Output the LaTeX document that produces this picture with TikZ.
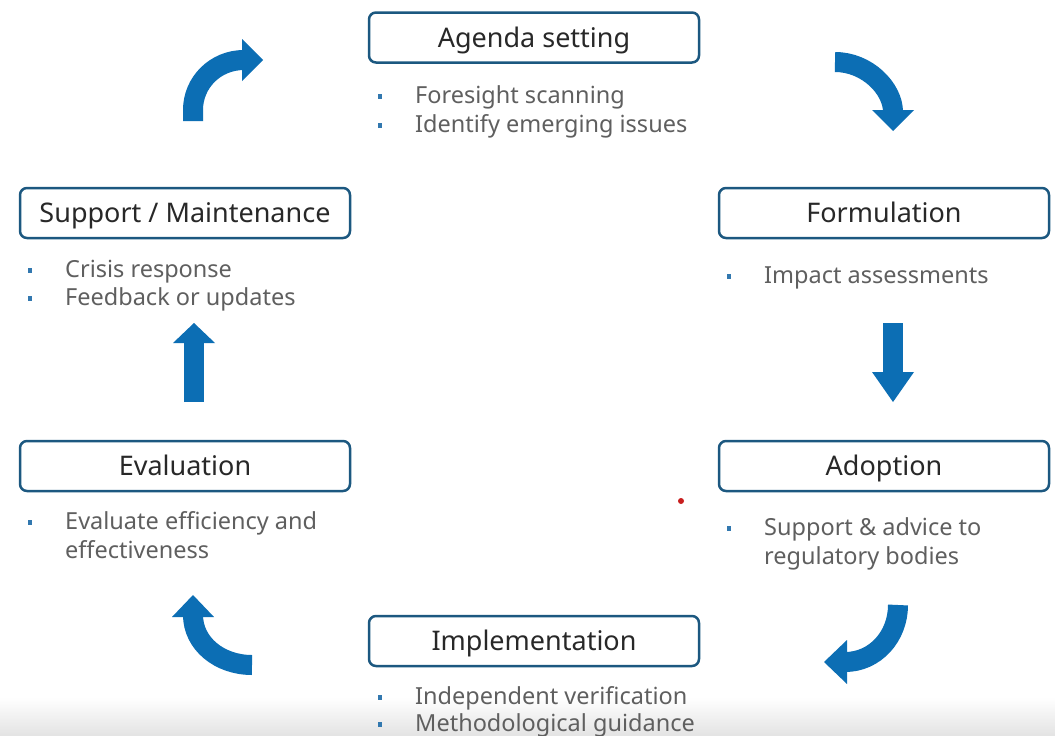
\documentclass[tikz,border=0pt]{standalone}
\usepackage{fontspec}
\setmainfont{Noto Sans}
\definecolor{boxline}{RGB}{28,88,128}
\definecolor{labeltext}{RGB}{40,40,40}
\definecolor{itemtext}{RGB}{95,95,95}
\definecolor{bulletblue}{RGB}{50,120,175}
\definecolor{arrowblue}{RGB}{12,110,180}
\definecolor{dotred}{RGB}{200,30,30}
\begin{document}
\begin{tikzpicture}[x=1pt,y=-1pt,
  stagebox/.style={draw=boxline, line width=2.5pt, rounded corners=7pt, fill=white,
    minimum width=330pt, minimum height=50pt, inner sep=0pt,
    text height=22pt, text depth=3pt,
    font=\fontsize{27}{30}\selectfont, text=labeltext},
  itemtext/.style={anchor=base west, inner sep=0pt, font=\fontsize{23.5}{27}\selectfont, text=itemtext},
  bulletsq/.style={fill=bulletblue, minimum width=4pt, minimum height=5pt, inner sep=0pt},
  shaft/.style={draw=arrowblue, line width=20pt},
  tiptri/.style={fill=arrowblue}
]
\useasboundingbox (0,0) rectangle (1055,736);
\fill[white] (0,0) rectangle (1055,736);
% bottom grey fade
\shade[top color=white, bottom color=black!11] (0,697) rectangle (1055,736);

% stage boxes
\node[stagebox] (agenda) at (534,37.5) {Agenda setting};
\node[stagebox] (support) at (185,213) {Support / Maintenance};
\node[stagebox] (formulation) at (884,213) {Formulation};
\node[stagebox] (evaluation) at (185,466) {Evaluation};
\node[stagebox] (adoption) at (884,466) {Adoption};
\node[stagebox] (implementation) at (534,641) {Implementation};

% bullet items
\node[bulletsq] (b1) at (380,96) {};
\node[itemtext] (t1) at (415,103) {Foresight scanning};
\node[bulletsq] (b2) at (380,125) {};
\node[itemtext] (t2) at (415,132) {Identify emerging issues};

\node[bulletsq] (b3) at (30,270) {};
\node[itemtext] (t3) at (65,277) {Crisis response};
\node[bulletsq] (b4) at (30,298) {};
\node[itemtext] (t4) at (65,305) {Feedback or updates};

\node[bulletsq] (b5) at (729,276) {};
\node[itemtext] (t5) at (764,283) {Impact assessments};

\node[bulletsq] (b6) at (729,528) {};
\node[itemtext] (t6) at (764,535) {Support \& advice to};
\node[itemtext] (t6b) at (764,564) {regulatory bodies};

\node[bulletsq] (b7) at (30,522) {};
\node[itemtext] (t7) at (65,529) {Evaluate efficiency and};
\node[itemtext] (t7b) at (65,558) {effectiveness};

\node[bulletsq] (b8) at (380,697) {};
\node[itemtext] (t8) at (415,704) {Independent verification};
\node[bulletsq] (b9) at (380,724) {};
\node[itemtext] (t9) at (415,731) {Methodological guidance};

% red dot
\fill[dotred] (681,501) circle (3pt);

% curved arrow top-left
\draw[shaft] (193,121) -- (193,110) .. controls (193,82.4) and (215.4,60) .. (244,60);
\fill[tiptri] (242,39) -- (263,60) -- (242,81) -- cycle;
% curved arrow top-right
\draw[shaft] (835,62) .. controls (867,62) and (893,88.5) .. (893,112);
\fill[tiptri] (872,110) -- (914,110) -- (893,131) -- cycle;
% straight arrow down
\draw[shaft] (893,323) -- (893,374);
\fill[tiptri] (872,372) -- (914,372) -- (893,402) -- cycle;
% curved arrow bottom-right
\draw[shaft] (898,605) .. controls (898,636.5) and (875,662) .. (845,662);
\fill[tiptri] (847,640) -- (847,684) -- (824,662) -- cycle;
% curved arrow bottom-left
\draw[shaft] (252,665) .. controls (219.4,665) and (193,643.5) .. (193,615);
\fill[tiptri] (172,617) -- (214,617) -- (193,595) -- cycle;
% straight arrow up
\draw[shaft] (194,402) -- (194,341);
\fill[tiptri] (173,343) -- (215,343) -- (194,323) -- cycle;
\end{tikzpicture}
\end{document}
